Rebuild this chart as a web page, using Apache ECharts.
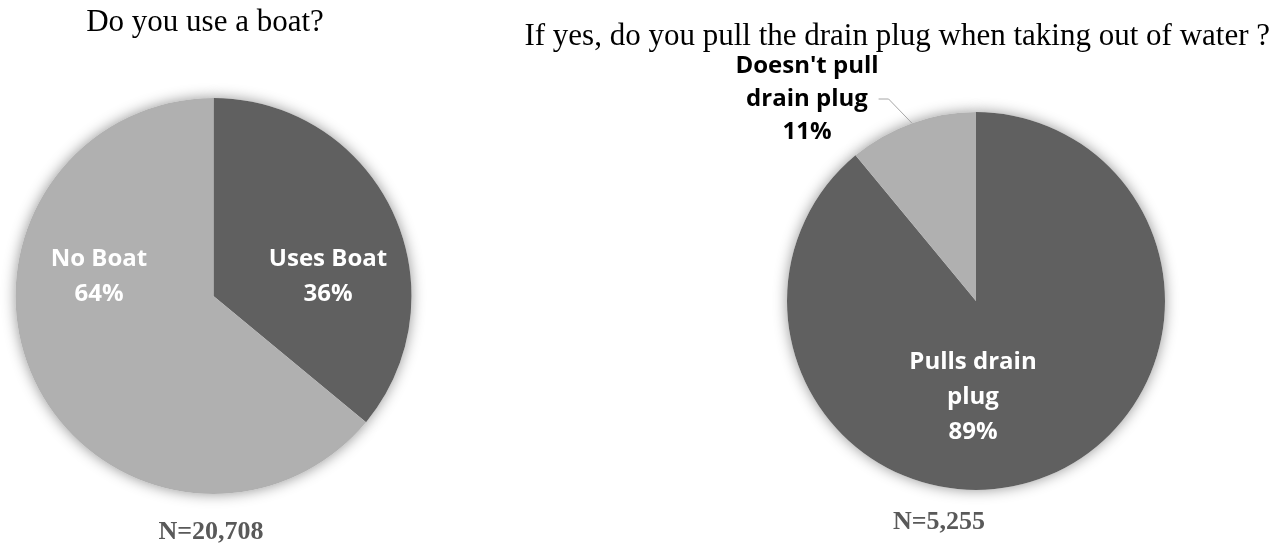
<!DOCTYPE html>
<html>
<head>
<meta charset="utf-8">
<script src="https://cdn.jsdelivr.net/npm/echarts@6/dist/echarts.min.js"></script>
<style>
  html, body { margin: 0; padding: 0; background: #fff; }
  #chart { width: 1285px; height: 544px; }
</style>
</head>
<body>
<div id="chart"></div>
<script>
// Survey results: boat usage and drain-plug habits
const boatCategories = ['Uses Boat', 'No Boat'];
const boatValues = [36, 64];
const plugCategories = ['Pulls drain\nplug', "Doesn't pull\ndrain plug"];
const plugValues = [89, 11];
const titles = ['Do you use a boat?', 'If yes, do you pull the drain plug when taking out of water ?'];
const sampleSizes = ['N=20,708', 'N=5,255'];

const DARK = '#606060';
const LIGHT = '#b0b0b0';
const sliceColors = [DARK, LIGHT];

const chart = echarts.init(document.getElementById('chart'), null, { renderer: 'canvas' });

function toData(names, values) {
  return names.map((n, i) => ({ name: n, value: values[i], itemStyle: { color: sliceColors[i] } }));
}

const labelFont = {
  fontFamily: '"Open Sans", sans-serif',
  fontWeight: 'bold',
  fontSize: 24,
  lineHeight: 35
};

// label anchor points for each slice (center of the text block)
const boatLabelPos = [[328, 277], [99, 277]];
const plugLabelPos = [[973, 397], [807, 99]];

function layoutFrom(points) {
  return function (params) {
    const p = points[params.dataIndex];
    return { x: p[0], y: p[1], align: 'center', verticalAlign: 'middle' };
  };
}

const boatCenter = [213.5, 296];
const boatRadius = 198;
const plugCenter = [976, 301];
const plugRadius = 189;

// soft halo drawn underneath each pie
function haloSeries(center, radius, names, values) {
  return {
    type: 'pie',
    center: center,
    radius: radius,
    startAngle: 90,
    silent: true,
    z: 1,
    label: { show: false },
    labelLine: { show: false },
    itemStyle: { color: '#ffffff', shadowBlur: 14, shadowColor: 'rgba(0,0,0,0.42)' },
    data: names.map((n, i) => ({ name: n, value: values[i] }))
  };
}

chart.setOption({
  animation: false,
  backgroundColor: '#ffffff',
  graphic: [
    {
      type: 'text', x: 205, y: 23,
      style: { text: titles[0], font: '31px "Liberation Serif", serif', fill: '#000', textAlign: 'center', textVerticalAlign: 'middle' }
    },
    {
      type: 'text', x: 1270, y: 37,
      style: { text: titles[1], font: '31px "Liberation Serif", serif', fill: '#000', textAlign: 'right', textVerticalAlign: 'middle' }
    },
    {
      type: 'text', x: 211, y: 532,
      style: { text: sampleSizes[0], font: 'bold 26px "Liberation Serif", serif', fill: '#595959', textAlign: 'center', textVerticalAlign: 'middle' }
    },
    {
      type: 'text', x: 939, y: 522,
      style: { text: sampleSizes[1], font: 'bold 26px "Liberation Serif", serif', fill: '#595959', textAlign: 'center', textVerticalAlign: 'middle' }
    }
  ],
  series: [
    haloSeries(boatCenter, boatRadius, boatCategories, boatValues),
    haloSeries(plugCenter, plugRadius, plugCategories, plugValues),
    {
      type: 'pie',
      z: 2,
      center: boatCenter,
      radius: boatRadius,
      startAngle: 90,
      clockwise: true,
      percentPrecision: 0,
      itemStyle: { borderWidth: 0 },
      emphasis: { disabled: true },
      label: Object.assign({ show: true, position: 'inside', color: '#ffffff', formatter: '{b}\n{d}%' }, labelFont),
      labelLine: { show: false },
      labelLayout: layoutFrom(boatLabelPos),
      data: toData(boatCategories, boatValues)
    },
    {
      type: 'pie',
      z: 2,
      center: plugCenter,
      radius: plugRadius,
      startAngle: 90,
      clockwise: true,
      percentPrecision: 0,
      itemStyle: { borderWidth: 0 },
      emphasis: { disabled: true },
      labelLayout: layoutFrom(plugLabelPos),
      data: [
        {
          name: plugCategories[0], value: plugValues[0], itemStyle: { color: DARK },
          label: Object.assign({ show: true, position: 'inside', color: '#ffffff', formatter: '{b}\n{d}%' }, labelFont),
          labelLine: { show: false }
        },
        {
          name: plugCategories[1], value: plugValues[1], itemStyle: { color: LIGHT },
          label: Object.assign({ show: true, position: 'outside', color: '#000000', formatter: '{b}\n{d}%' }, labelFont, { lineHeight: 33 }),
          labelLine: { show: true, length: 12, length2: 10, lineStyle: { color: '#a6a6a6', width: 1 } }
        }
      ]
    }
  ]
});
</script>
</body>
</html>
